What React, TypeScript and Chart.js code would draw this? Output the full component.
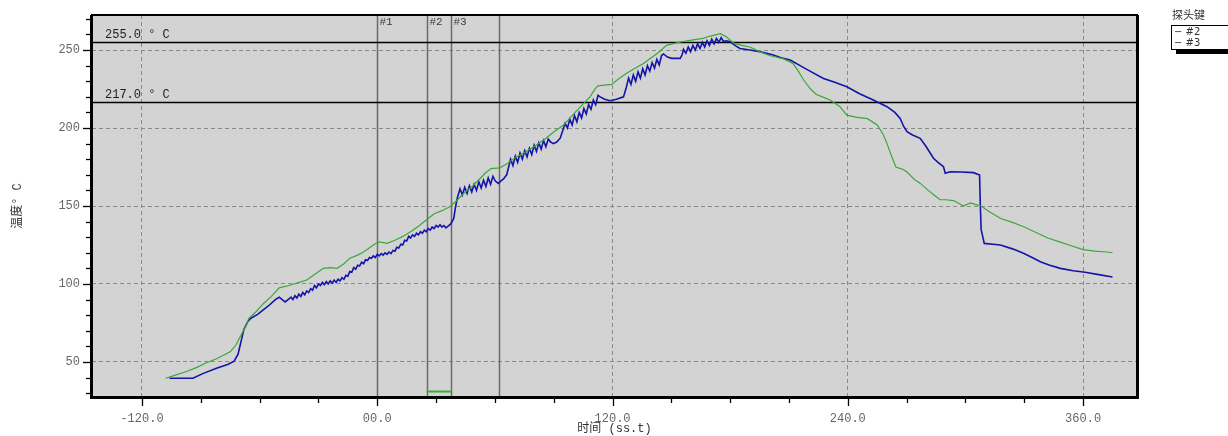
import React, { useEffect, useRef } from 'react';
import { Chart, registerables } from 'chart.js';

Chart.register(...registerables);

// ---------- data ----------
const probe2Label = '#2';
const probe3Label = '#3';

const probe2Time = [
  -108, -103, -97, -92, -88, -82, -75, -72, -70, -67, -65.5, -62, -58, -54, -50, -45, -41, -36, -32, -27.5,
  -24, -20.5, -17, -14, -10, -7, -3, 0.5, 3, 5, 9, 13, 17, 21, 25, 29, 33, 37, 41, 44,
  48, 52, 55, 58, 62.5, 66, 71, 76, 81, 86, 90, 95, 98, 102, 105, 108.5, 111, 112.5, 116, 119.5,
  123, 127, 131, 136, 139, 143, 147.5, 152, 156, 161, 166, 170, 175, 178, 182, 186, 190, 195, 200, 207,
  212, 215, 217.5, 221, 224, 228, 231, 236, 239.5, 244, 250, 255, 258, 260, 262, 264.5, 268, 270, 274, 277,
  281, 284, 287, 290, 294, 297, 299, 302.5, 305, 308, 312, 318, 324, 330, 336, 342, 348, 354, 360, 366,
  372, 375,
];
const probe2Temp = [
  39.5, 41.5, 44, 46.5, 49, 52, 56.5, 61, 66, 73, 78, 82, 87.5, 92, 97.5, 99, 100.5, 102.5, 106, 110,
  110.5, 110, 113, 116.5, 118.5, 120.5, 124, 127, 126.5, 126, 128, 130.5, 133.5, 137, 141, 145, 147, 149.5, 154, 158,
  162, 167, 171, 174, 174.5, 177, 181.5, 185, 189, 193.5, 197.5, 202, 206, 211.5, 215.5, 220, 225, 227, 227.5, 228,
  231.5, 235, 238, 241.5, 244.5, 248, 253, 254.5, 255.5, 256.5, 257.5, 259, 260.5, 258.5, 254.3, 253, 252, 249, 246.5, 244.5,
  241.5, 236, 230.8, 225, 221.5, 219.5, 218, 213.7, 208.3, 207, 206, 202, 196, 190, 183, 175, 173.5, 172, 167, 164.5,
  160, 157, 154, 154, 153.5, 151.5, 150, 152, 151, 150, 146.5, 142, 139.5, 136.5, 133, 129.5, 127, 124.5, 122, 121,
  120.5, 120,
];

const probe3Time = [
  -106, -94, -89, -82, -76, -73, -71, -69.5, -68, -66, -64.5, -61, -58, -55, -52, -50, -48, -47, -45,
  -44, -43, -42, -41, -40, -39, -38, -37, -36, -35, -34, -33, -32, -31, -30, -29, -28, -27, -26, -25,
  -24, -23, -22, -21, -20, -19, -18, -17, -16, -15, -14, -13, -12, -11, -10, -9, -8, -7, -6, -5,
  -4, -3, -2, -1, 0, 1, 2, 3, 4, 5, 6, 7, 8, 9, 10, 11, 12, 13, 14, 15,
  16, 17, 18, 19, 20, 21, 22, 23, 24, 25, 26, 27, 28, 29, 30, 31, 32, 33, 34, 35,
  36, 37.5, 39, 40, 41, 42.2, 43.4, 44.6, 45.8, 47, 48.2, 49.4, 50.6, 51.8, 53, 54.2, 55.4, 56.6, 57.8, 59,
  60.2, 61.8, 63, 64.5, 66, 67, 68, 69.2, 70.4, 71.6, 72.8, 74, 75.2, 76.4, 77.6, 78.8, 80, 81.2, 82.4, 83.6,
  84.8, 86, 87.2, 88.4, 89.9, 91.5, 93.3, 94.5, 95.8, 97, 98.2, 99.4, 100.6, 101.8, 103, 104.2, 105.4, 106.6, 107.8, 109,
  110.2, 111.4, 112.6, 113.7, 116, 118.8, 122, 125.6, 127, 128.2, 129.4, 130.6, 131.8, 133, 134.2, 135.4, 136.6, 137.8, 139, 140.2,
  141.4, 142.6, 143.8, 145, 146, 148, 150.2, 154.5, 155.5, 156.2, 157.4, 158.6, 159.8, 161, 162.2, 163.4, 164.6, 165.8, 167, 168.2,
  169.4, 170.6, 171.8, 173, 174.2, 175.4, 176.6, 178, 180, 183, 185, 190, 195, 202, 206, 210.6, 215, 220, 227.6, 233,
  239.5, 246, 253, 260, 264, 266.7, 268.5, 270.2, 273, 276.9, 280, 283.7, 286, 288.8, 289.7, 292.2, 298, 304.1, 307.2, 307.6,
  308, 309.6, 314, 317.8, 324, 329.6, 334, 338.2, 343, 348.4, 355, 361, 368, 375,
];
const probe3Temp = [
  39.5, 39.5, 42.5, 46, 48.5, 50.5, 55, 63, 71, 76, 78, 80.5, 83.5, 86.5, 90, 91.5, 89.5, 88.5, 90.5,
  91.5, 90, 92.5, 91, 93.5, 92, 94.5, 93, 95.5, 94.5, 97, 96, 99, 97.5, 100, 99, 101, 99.5, 101.5, 100,
  102, 100.5, 102.5, 101, 103, 102, 104, 103, 105.5, 105, 108, 107.5, 110.5, 109.5, 112, 111.5, 114, 113, 115.5, 115,
  117, 116.5, 118, 117, 119, 118, 119.5, 118.5, 120, 119, 120.5, 119.5, 121.5, 121, 123.5, 123, 125.5, 125, 128, 127.5,
  130.5, 129.5, 131.5, 130.5, 132.5, 131.5, 133.5, 132.5, 134.5, 133.5, 135.5, 134.5, 136.5, 135.5, 137.5, 136.5, 138, 136.5, 137.5, 136,
  137, 138.5, 142, 150, 156, 161, 157, 162, 158, 163, 159, 164, 160, 165.5, 161.5, 166.5, 162.5, 168, 164, 169,
  166, 164.5, 166, 167.5, 170, 175, 180, 176, 182, 178, 184, 180, 185.5, 181.5, 187, 183, 189, 185, 190.5, 186.5,
  192, 188, 193, 191, 190, 191, 193.5, 198, 203, 200, 205.5, 202, 208, 204, 210, 206.5, 212.5, 209, 215, 212,
  218, 215, 221, 220, 218.5, 217.5, 218.5, 220, 226, 232, 228, 234, 230, 236, 232, 238, 234, 240, 236.5, 242,
  238.5, 244, 240.5, 246.5, 247.5, 245.5, 244.7, 244.7, 247, 250.5, 248, 252, 249, 253, 250, 254, 251, 255, 252, 256,
  253, 257, 254, 257.5, 255, 258, 255.5, 256, 255.3, 252.5, 251, 250, 249, 246.8, 245, 243.6, 240.5, 237, 231.8, 229.5,
  226.5, 222, 218, 213.7, 210, 206.2, 201, 197.6, 195.5, 193.4, 188, 180.6, 178, 175.2, 171, 172, 171.8, 171.4, 169.9, 150,
  135, 126, 125.5, 125, 122.5, 119.7, 117, 114.3, 112, 110, 108.5, 107.5, 106, 104.5,
];

const probe2BaseTime = [25.2, 37.5];
const probe2BaseTemp = [31, 31];

const limitTemps = [255, 217];
const markerTimes = [0, 25.2, 37.5, 62.3];
const markerLabels = ['#1', '#2', '#3', ''];

const xMajorTicks = [-120, 0, 120, 240, 360];
const xTickLabels = ['-120.0', '00.0', '120.0', '240.0', '360.0'];
const yMajorTicks = [50, 100, 150, 200, 250];
const yTickLabels = ['50', '100', '150', '200', '250'];

const xTitle = '时间 (ss.t)';
const yTitle = '温度° C';
const legendTitle = '探头键';

const GREEN = '#3aa83a';
const BLUE = '#1414a8';
const MONO = "'Liberation Mono', 'DejaVu Sans Mono', monospace";
const CJK = "'Liberation Mono', 'Noto Sans CJK SC', sans-serif";

const toPoints = (xs: number[], ys: number[]) => xs.map((x, i) => ({ x, y: ys[i] }));

const decorPlugin = {
  id: 'decor',
  beforeDraw(chart: any) {
    const { ctx, chartArea: a } = chart;
    ctx.save();
    ctx.fillStyle = '#ffffff';
    ctx.fillRect(0, 0, chart.width, chart.height);
    ctx.fillStyle = '#d3d3d3';
    ctx.fillRect(a.left, a.top, a.right - a.left, a.bottom - a.top);
    ctx.restore();
  },
  beforeDatasetsDraw(chart: any) {
    const { ctx, chartArea: a, scales } = chart;
    const xs = scales.x;
    const ys = scales.y;
    ctx.save();
    // marker lines
    ctx.strokeStyle = '#6a6a6a';
    ctx.lineWidth = 1.5;
    ctx.font = `11px ${MONO}`;
    ctx.fillStyle = '#3a3a3a';
    ctx.textBaseline = 'middle';
    ctx.textAlign = 'left';
    markerTimes.forEach((t, i) => {
      const px = Math.round(xs.getPixelForValue(t)) + 0.5;
      ctx.beginPath();
      ctx.moveTo(px, a.top);
      ctx.lineTo(px, a.bottom);
      ctx.stroke();
      if (markerLabels[i]) ctx.fillText(markerLabels[i], px + 2, a.top + 7);
    });
    // limit lines
    ctx.strokeStyle = '#000000';
    ctx.lineWidth = 1.6;
    ctx.font = `12px ${MONO}`;
    ctx.fillStyle = '#1e1e1e';
    ctx.textBaseline = 'alphabetic';
    limitTemps.forEach((v) => {
      const py = Math.round(ys.getPixelForValue(v)) + 0.5;
      ctx.beginPath();
      ctx.moveTo(a.left, py);
      ctx.lineTo(a.right, py);
      ctx.stroke();
      ctx.fillText(`${v.toFixed(1)} ° C`, a.left + 13, py - 5);
    });
    ctx.restore();
  },
  afterDraw(chart: any) {
    const { ctx, chartArea: a, scales } = chart;
    const xs = scales.x;
    const ys = scales.y;
    ctx.save();
    // frame: thin top, heavier left/bottom/right
    ctx.strokeStyle = '#000000';
    ctx.lineWidth = 2;
    ctx.strokeRect(a.left, a.top, a.right - a.left, a.bottom - a.top);
    ctx.lineWidth = 3;
    ctx.beginPath();
    ctx.moveTo(a.left - 0.5, a.top);
    ctx.lineTo(a.left - 0.5, a.bottom + 0.5);
    ctx.lineTo(a.right + 0.5, a.bottom + 0.5);
    ctx.lineTo(a.right + 0.5, a.top);
    ctx.stroke();
    // ticks
    ctx.lineWidth = 1.3;
    xs.ticks.forEach((tk: any) => {
      const px = Math.round(xs.getPixelForValue(tk.value)) + 0.5;
      const len = xMajorTicks.includes(tk.value) ? 8 : 5;
      ctx.beginPath();
      ctx.moveTo(px, a.bottom + 1);
      ctx.lineTo(px, a.bottom + 1 + len);
      ctx.stroke();
    });
    ys.ticks.forEach((tk: any) => {
      const py = Math.round(ys.getPixelForValue(tk.value)) + 0.5;
      const len = yMajorTicks.includes(tk.value) ? 8 : 5;
      ctx.beginPath();
      ctx.moveTo(a.left - 1 - len, py);
      ctx.lineTo(a.left - 1, py);
      ctx.stroke();
    });
    // axis titles
    ctx.fillStyle = '#333333';
    ctx.font = `12px ${CJK}`;
    ctx.textAlign = 'center';
    ctx.textBaseline = 'middle';
    ctx.fillText(xTitle, (a.left + a.right) / 2, 429);
    ctx.save();
    ctx.translate(18, (a.top + a.bottom) / 2);
    ctx.rotate(-Math.PI / 2);
    ctx.fillText(yTitle, 0, 0);
    ctx.restore();
    // legend
    const lx = 1171;
    ctx.textAlign = 'left';
    ctx.font = `11px 'Noto Sans CJK SC', sans-serif`;
    ctx.fillStyle = '#333333';
    ctx.fillText(legendTitle, lx + 1, 15);
    ctx.fillStyle = '#000000';
    ctx.fillRect(lx + 5, 50, chart.width - lx - 5, 4);
    ctx.fillStyle = '#ffffff';
    ctx.fillRect(lx, 25, chart.width - lx, 25);
    ctx.strokeStyle = '#000000';
    ctx.lineWidth = 1;
    ctx.strokeRect(lx + 0.5, 25.5, chart.width - lx, 24);
    ctx.font = `10px 'DejaVu Sans', sans-serif`;
    ctx.fillStyle = '#333333';
    chart.data.datasets
      .filter((d: any) => d.label)
      .forEach((d: any, i: number) => {
        ctx.fillText(`− ${d.label}`, lx + 3, 32 + i * 11);
      });
    ctx.restore();
  },
};

export default function App() {
  const ref = useRef<HTMLCanvasElement | null>(null);

  useEffect(() => {
    if (!ref.current) return;
    const chart = new Chart(ref.current, {
      type: 'line',
      data: {
        datasets: [
          {
            label: probe2Label,
            data: toPoints(probe2Time, probe2Temp),
            borderColor: GREEN,
            borderWidth: 1.2,
            pointRadius: 0,
            tension: 0,
          },
          {
            label: probe3Label,
            data: toPoints(probe3Time, probe3Temp),
            borderColor: BLUE,
            borderWidth: 1.6,
            pointRadius: 0,
            tension: 0,
          },
          {
            label: '',
            data: toPoints(probe2BaseTime, probe2BaseTemp),
            borderColor: GREEN,
            borderWidth: 2,
            pointRadius: 0,
            tension: 0,
          },
        ],
      },
      options: {
        animation: false,
        responsive: false,
        events: [],
        layout: { padding: { left: 0, right: 91, top: 15, bottom: 0 } },
        plugins: { legend: { display: false }, tooltip: { enabled: false } },
        scales: {
          x: {
            type: 'linear',
            min: -145.5,
            max: 387.5,
            afterFit: (s: any) => {
              s.height = 39;
            },
            border: { display: false, dash: [4, 3] },
            grid: {
              color: (c: any) => (c.tick && xMajorTicks.includes(c.tick.value) ? '#8a8a8a' : 'rgba(0,0,0,0)'),
              lineWidth: 1,
              drawTicks: true,
              tickLength: 8,
              tickColor: 'rgba(0,0,0,0)',
            },
            ticks: {
              stepSize: 30,
              includeBounds: false,
              autoSkip: false,
              maxRotation: 0,
              padding: 7,
              color: '#666666',
              font: { family: MONO, size: 12 },
              callback: (v: any) => {
                const i = xMajorTicks.indexOf(Number(v));
                return i >= 0 ? xTickLabels[i] : '';
              },
            },
          },
          y: {
            type: 'linear',
            min: 27.5,
            max: 272.5,
            afterFit: (s: any) => {
              s.width = 92;
            },
            border: { display: false, dash: [4, 3] },
            grid: {
              color: (c: any) => (c.tick && yMajorTicks.includes(c.tick.value) ? '#8a8a8a' : 'rgba(0,0,0,0)'),
              lineWidth: 1,
              drawTicks: true,
              tickLength: 8,
              tickColor: 'rgba(0,0,0,0)',
            },
            ticks: {
              stepSize: 10,
              includeBounds: false,
              autoSkip: false,
              padding: 4,
              color: '#666666',
              font: { family: MONO, size: 12 },
              callback: (v: any) => {
                const i = yMajorTicks.indexOf(Number(v));
                return i >= 0 ? yTickLabels[i] : '';
              },
            },
          },
        },
      },
      plugins: [decorPlugin],
    });
    return () => chart.destroy();
  }, []);

  return (
    <div style={{ position: 'fixed', left: 0, top: 0, width: 1228, height: 436, background: '#fff' }}>
      <canvas ref={ref} width={1228} height={436} style={{ display: 'block' }} />
    </div>
  );
}
